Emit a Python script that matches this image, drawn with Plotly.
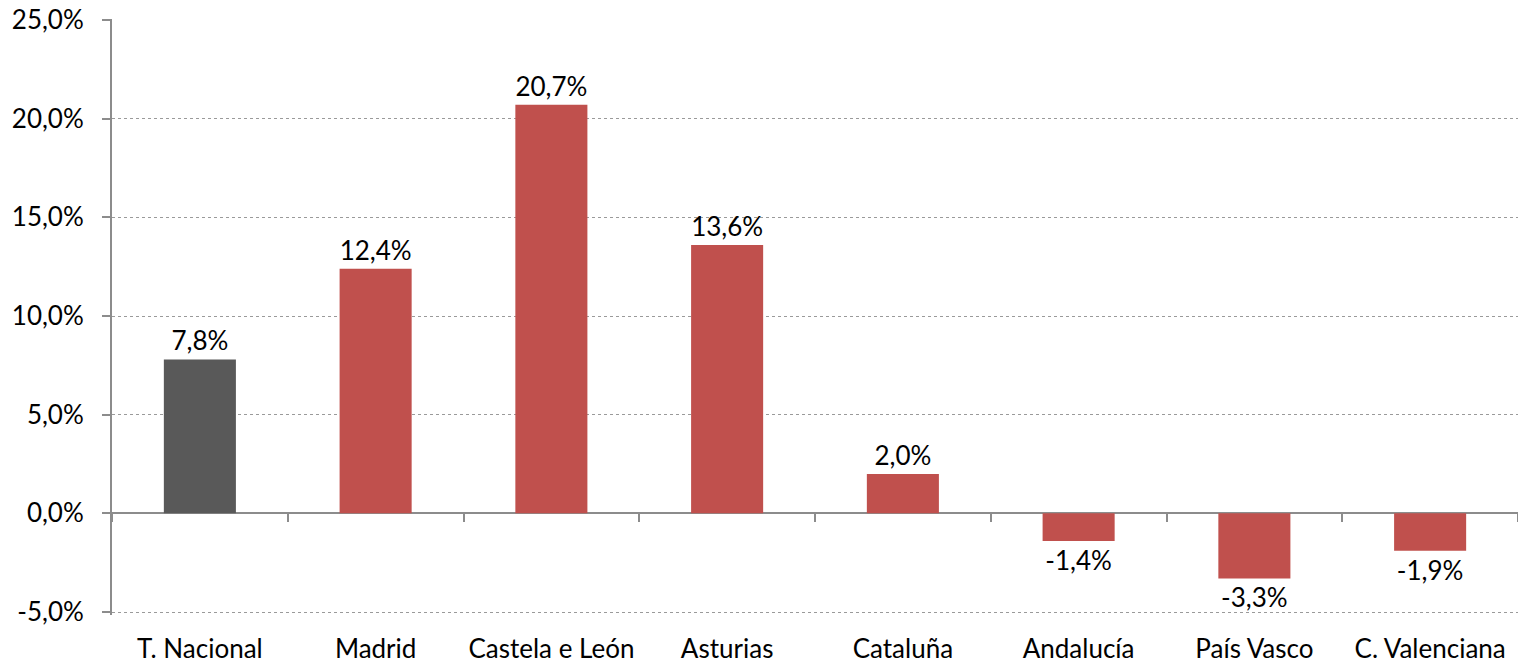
import plotly.graph_objects as go

categories = ["T. Nacional", "Madrid", "Castela e León", "Asturias", "Cataluña",
              "Andalucía", "País Vasco", "C. Valenciana"]
values = [7.8, 12.4, 20.7, 13.6, 2.0, -1.4, -3.3, -1.9]
colors = ["#595959"] + ["#C0504D"] * 7
y_ticks = [-5, 0, 5, 10, 15, 20, 25]
y_ticktext = ["-5,0%", "0,0%", "5,0%", "10,0%", "15,0%", "20,0%", "25,0%"]

FONT = "Lato"
SIZE = 26
Y_LO, Y_HI = -5.15, 25.05
fig = go.Figure()
fig.add_trace(go.Bar(
    x=categories, y=values, marker=dict(color=colors, line=dict(width=0)),
    width=0.41,
    text=[f"{v:.1f}".replace(".", ",") + "%" for v in values],
    textposition="outside", cliponaxis=False,
    textfont=dict(family=FONT, size=SIZE, color="#000000"),
    xaxis="x", yaxis="y",
))
# invisible trace for the zero-line category tick axis
fig.add_trace(go.Scatter(x=categories, y=[0] * len(categories), mode="markers",
                         marker=dict(opacity=0), xaxis="x2", yaxis="y",
                         hoverinfo="skip", showlegend=False))

fig.update_layout(
    width=1518, height=663,
    margin=dict(l=112, r=0, t=19, b=48),
    plot_bgcolor="white", paper_bgcolor="white",
    showlegend=False,
    font=dict(family=FONT, size=SIZE, color="#000000"),
    xaxis=dict(type="category", categoryorder="array", categoryarray=categories,
               showgrid=False, showline=False, ticks="", zeroline=False,
               automargin=False, ticklabelstandoff=16,
               tickfont=dict(family=FONT, size=SIZE)),
    xaxis2=dict(type="category", categoryorder="array", categoryarray=categories,
                overlaying="x", matches="x", anchor="free",
                position=-Y_LO / (Y_HI - Y_LO),
                showticklabels=False, showline=False, showgrid=False,
                automargin=False,
                ticks="outside", tickson="boundaries", ticklen=8,
                tickcolor="#8c8c8c", tickwidth=2),
    yaxis=dict(range=[Y_LO, Y_HI], tickvals=y_ticks, ticktext=y_ticktext,
               showgrid=True, gridcolor="#9a9a9a", griddash="dot", gridwidth=1,
               zeroline=True, zerolinecolor="#8c8c8c", zerolinewidth=2,
               showline=True, linecolor="#8c8c8c", linewidth=2,
               ticks="outside", ticklen=8, tickcolor="#8c8c8c", tickwidth=2,
               automargin=False, ticklabelstandoff=13,
               tickfont=dict(family=FONT, size=SIZE)),
)
fig.write_html("out.html",
               config={"displayModeBar": False},
               post_script="document.body.style.margin='0';"
                           "document.body.style.overflow='hidden';")
